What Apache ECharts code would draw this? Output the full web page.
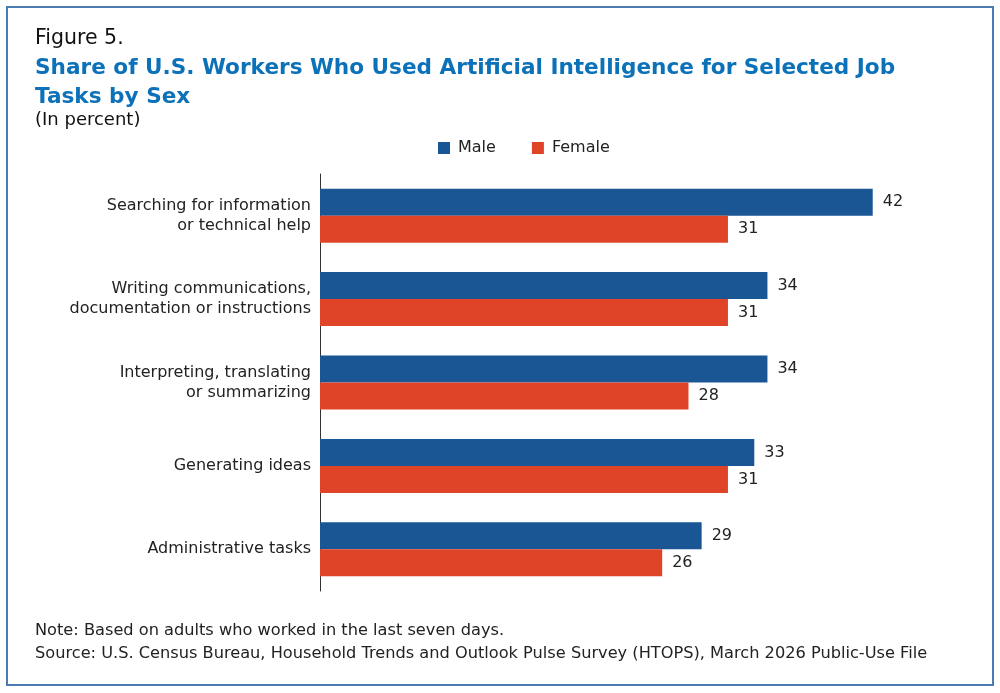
<!DOCTYPE html>
<html><head><meta charset="utf-8">
<script src="https://cdn.jsdelivr.net/npm/echarts@6/dist/echarts.min.js"></script>
<style>html,body{margin:0;padding:0;background:#fff}#c{width:1000px;height:693px}</style>
</head><body><div id="c"></div>
<script>
const categories = [
  "Searching for information\nor technical help",
  "Writing communications,\ndocumentation or instructions",
  "Interpreting, translating\nor summarizing",
  "Generating ideas",
  "Administrative tasks"
];
const male = [42, 34, 34, 33, 29];
const female = [31, 31, 28, 31, 26];

const FONT = "'DejaVu Sans', 'Noto Sans', sans-serif";
const chart = echarts.init(document.getElementById('c'), null, {renderer: 'canvas'});
chart.setOption({
  backgroundColor: '#fff',
  animation: false,
  textStyle: {fontFamily: FONT},
  graphic: [
    {type: 'rect', shape: {x: 7, y: 7, width: 986, height: 678},
     style: {fill: 'none', stroke: '#4a7bb1', lineWidth: 2}},
    {type: 'text', left: 35, top: 28, style: {text: 'Figure 5.', fill: '#111', font: "400 20.5px " + FONT}},
    {type: 'text', left: 35, top: 54, style: {text: 'Share of U.S. Workers Who Used Artificial Intelligence for Selected Job\nTasks by Sex', fill: '#0b71b9', font: "700 21.6px " + FONT, lineHeight: 29}},
    {type: 'text', left: 35, top: 111, style: {text: '(In percent)', fill: '#111', font: "400 18px " + FONT}},
    {type: 'text', left: 35, top: 619, style: {text: 'Note: Based on adults who worked in the last seven days.\nSource: U.S. Census Bureau, Household Trends and Outlook Pulse Survey (HTOPS), March 2026 Public-Use File', fill: '#222', font: "400 16.2px " + FONT, lineHeight: 23}}
  ],
  legend: {
    top: 135, left: 433,
    itemWidth: 12, itemHeight: 12, itemGap: 36,
    icon: 'rect',
    textStyle: {fontSize: 16, color: '#222', fontFamily: FONT, padding: [0, 0, 0, 3]}
  },
  grid: {left: 320, top: 174, width: 658, height: 417, containLabel: false},
  xAxis: {
    type: 'value', min: 0, max: 50,
    show: false
  },
  yAxis: {
    type: 'category', data: categories, inverse: true,
    axisLine: {show: true, lineStyle: {color: '#333', width: 1}},
    axisTick: {show: false},
    axisLabel: {fontSize: 16, color: '#222', lineHeight: 20, margin: 9, align: 'right', fontFamily: FONT}
  },
  series: [
    {name: 'Male', type: 'bar', data: male, barWidth: 27, barGap: '0%',
     itemStyle: {color: '#1a5594'},
     label: {show: true, position: 'right', distance: 10, fontSize: 16, color: '#222', fontFamily: FONT}},
    {name: 'Female', type: 'bar', data: female, barWidth: 27,
     itemStyle: {color: '#e04428'},
     label: {show: true, position: 'right', distance: 10, fontSize: 16, color: '#222', fontFamily: FONT}}
  ]
});
</script></body></html>
